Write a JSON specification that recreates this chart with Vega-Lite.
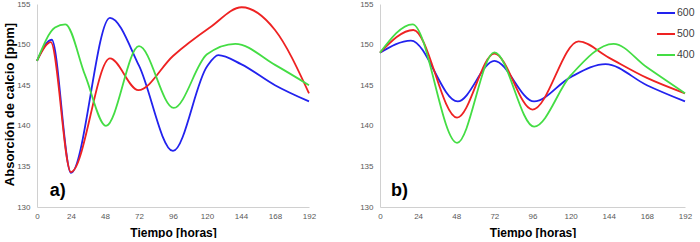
{
  "$schema": "https://vega.github.io/schema/vega-lite/v6.json",
  "padding": {"left": 2, "top": 0, "right": 0, "bottom": 0},
  "spacing": 43,
  "background": "white",
  "config": {
    "view": {"stroke": null},
    "axis": {
      "grid": false,
      "ticks": false,
      "domainColor": "#d0d0d0",
      "domainWidth": 1,
      "labelFont": "Liberation Sans",
      "labelFontSize": 8,
      "labelColor": "#595959",
      "labelFlush": false,
      "labelOverlap": false,
      "titleFont": "Liberation Sans",
      "titleFontWeight": "bold",
      "titleColor": "#000000"
    }
  },
  "datasets": {
    "a": [
      {"t": 0, "v": 148, "s": "600"},
      {"t": 10.4, "v": 150.6, "s": "600"},
      {"t": 24, "v": 134.2, "s": "600"},
      {"t": 51.5, "v": 153.3, "s": "600"},
      {"t": 72, "v": 147.4, "s": "600"},
      {"t": 96, "v": 136.9, "s": "600"},
      {"t": 120, "v": 147.3, "s": "600"},
      {"t": 128, "v": 148.7, "s": "600"},
      {"t": 144, "v": 147.6, "s": "600"},
      {"t": 168, "v": 145, "s": "600"},
      {"t": 192, "v": 143, "s": "600"},
      {"t": 0, "v": 148, "s": "500"},
      {"t": 9.7, "v": 150.3, "s": "500"},
      {"t": 24, "v": 134.3, "s": "500"},
      {"t": 51.5, "v": 148.3, "s": "500"},
      {"t": 71.5, "v": 144.4, "s": "500"},
      {"t": 96, "v": 148.6, "s": "500"},
      {"t": 122, "v": 152.1, "s": "500"},
      {"t": 144.5, "v": 154.6, "s": "500"},
      {"t": 168, "v": 151.8, "s": "500"},
      {"t": 192, "v": 144, "s": "500"},
      {"t": 0, "v": 148, "s": "400"},
      {"t": 12.7, "v": 152.1, "s": "400"},
      {"t": 20, "v": 152.5, "s": "400"},
      {"t": 34, "v": 146.2, "s": "400"},
      {"t": 48.7, "v": 140, "s": "400"},
      {"t": 72, "v": 149.8, "s": "400"},
      {"t": 96.5, "v": 142.2, "s": "400"},
      {"t": 120, "v": 148.8, "s": "400"},
      {"t": 140, "v": 150.1, "s": "400"},
      {"t": 168, "v": 147.5, "s": "400"},
      {"t": 192, "v": 145, "s": "400"}
    ],
    "b": [
      {"t": 0, "v": 149, "s": "600"},
      {"t": 19.5, "v": 150.5, "s": "600"},
      {"t": 48.9, "v": 143, "s": "600"},
      {"t": 72, "v": 148, "s": "600"},
      {"t": 97, "v": 143, "s": "600"},
      {"t": 120, "v": 146, "s": "600"},
      {"t": 142, "v": 147.6, "s": "600"},
      {"t": 168, "v": 145, "s": "600"},
      {"t": 192, "v": 143, "s": "600"},
      {"t": 0, "v": 149, "s": "500"},
      {"t": 21, "v": 151.8, "s": "500"},
      {"t": 48.5, "v": 141, "s": "500"},
      {"t": 72, "v": 148.9, "s": "500"},
      {"t": 96, "v": 142, "s": "500"},
      {"t": 125, "v": 150.4, "s": "500"},
      {"t": 144, "v": 148.4, "s": "500"},
      {"t": 168, "v": 145.9, "s": "500"},
      {"t": 192, "v": 144, "s": "500"},
      {"t": 0, "v": 149, "s": "400"},
      {"t": 20.5, "v": 152.5, "s": "400"},
      {"t": 48.5, "v": 137.9, "s": "400"},
      {"t": 72, "v": 149.05, "s": "400"},
      {"t": 97, "v": 139.9, "s": "400"},
      {"t": 120, "v": 146.2, "s": "400"},
      {"t": 147, "v": 150.1, "s": "400"},
      {"t": 168, "v": 147.2, "s": "400"},
      {"t": 192, "v": 144, "s": "400"}
    ],
    "labA": [{"t": 9, "v": 131.3, "txt": "a)"}],
    "labB": [{"t": 7, "v": 131.3, "txt": "b)"}]
  },
  "hconcat": [
    {
      "width": 272,
      "height": 203,
      "layer": [
        {
          "data": {"name": "a"},
          "mark": {"type": "line", "interpolate": "monotone", "strokeWidth": 1.8},
          "encoding": {
            "x": {"field": "t", "type": "quantitative",
                  "scale": {"domain": [0, 192], "nice": false, "zero": false},
                  "axis": {"values": [0, 24, 48, 72, 96, 120, 144, 168, 192], "tickCount": 20, "title": "Tiempo [horas]",
                           "labelOverlap": false,
                           "titleFontSize": 12, "labelPadding": 5,
                           "titleY": 25, "titleBaseline": "middle"}},
            "y": {"field": "v", "type": "quantitative",
                  "scale": {"domain": [130, 155], "nice": false, "zero": false},
                  "axis": {"values": [130, 135, 140, 145, 150, 155], "tickCount": 20, "title": "Absorción de calcio [ppm]",
                           "labelOverlap": false,
                           "titleFontSize": 13, "labelPadding": 7,
                           "titleX": -28, "titleY": 100, "titleAngle": 270,
                           "titleAlign": "center", "titleBaseline": "middle"}},
            "color": {"field": "s", "type": "nominal",
                      "scale": {"domain": ["600", "500", "400"], "range": ["#2222ee", "#ee2222", "#44dd44"]},
                      "legend": null},
            "detail": {"field": "s"}
          }
        },
        {
          "data": {"name": "labA"},
          "mark": {"type": "text", "font": "Liberation Sans", "fontWeight": "bold", "fontSize": 18, "align": "left", "baseline": "alphabetic", "color": "#000000"},
          "encoding": {
            "x": {"field": "t", "type": "quantitative"},
            "y": {"field": "v", "type": "quantitative"},
            "text": {"field": "txt"}
          }
        }
      ]
    },
    {
      "width": 305,
      "height": 203,
      "layer": [
        {
          "data": {"name": "b"},
          "mark": {"type": "line", "interpolate": "monotone", "strokeWidth": 1.8},
          "encoding": {
            "x": {"field": "t", "type": "quantitative",
                  "scale": {"domain": [0, 192], "nice": false, "zero": false},
                  "axis": {"values": [0, 24, 48, 72, 96, 120, 144, 168, 192], "tickCount": 20, "title": "Tiempo [horas]",
                           "labelOverlap": false,
                           "titleFontSize": 12, "labelPadding": 5,
                           "titleY": 25, "titleBaseline": "middle"}},
            "y": {"field": "v", "type": "quantitative",
                  "scale": {"domain": [130, 155], "nice": false, "zero": false},
                  "axis": {"values": [130, 135, 140, 145, 150, 155], "tickCount": 20, "title": null, "labelPadding": 7, "labelOverlap": false}},
            "color": {"field": "s", "type": "nominal",
                      "scale": {"domain": ["600", "500", "400"], "range": ["#2222ee", "#ee2222", "#44dd44"]},
                      "legend": {"title": null, "orient": "none", "legendX": 276, "legendY": -1,
                                 "symbolType": "stroke", "symbolSize": 324, "symbolStrokeWidth": 2,
                                 "labelFont": "Liberation Sans", "labelFontSize": 10.5, "labelColor": "#404040",
                                 "labelOffset": 1, "rowPadding": 5, "padding": 0}},
            "detail": {"field": "s"}
          }
        },
        {
          "data": {"name": "labB"},
          "mark": {"type": "text", "font": "Liberation Sans", "fontWeight": "bold", "fontSize": 18, "align": "left", "baseline": "alphabetic", "color": "#000000"},
          "encoding": {
            "x": {"field": "t", "type": "quantitative"},
            "y": {"field": "v", "type": "quantitative"},
            "text": {"field": "txt"}
          }
        }
      ]
    }
  ],
  "resolve": {"scale": {"color": "independent"}, "legend": {"color": "independent"}}
}
